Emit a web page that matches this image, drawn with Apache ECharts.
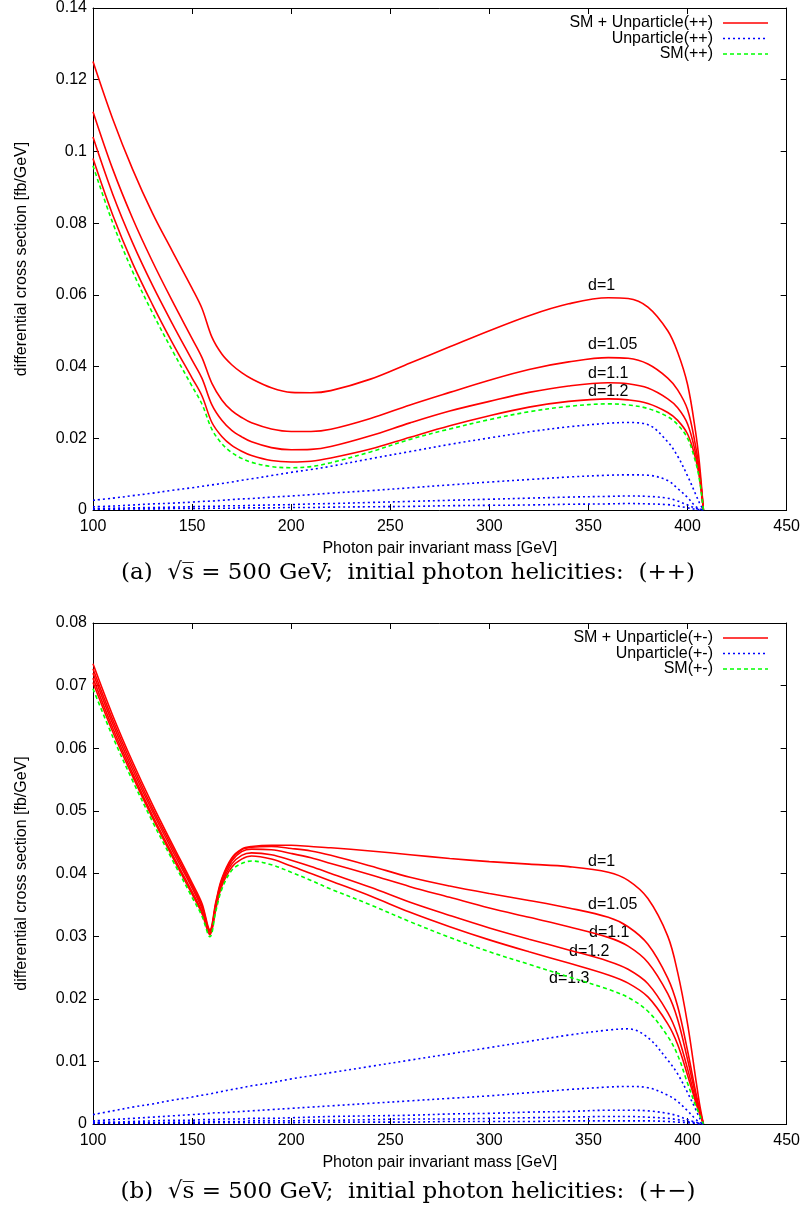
<!DOCTYPE html>
<html>
<head>
<meta charset="utf-8">
<script src="https://cdn.jsdelivr.net/npm/echarts@6.0.0/dist/echarts.min.js"></script>
<style>
  html, body { margin: 0; padding: 0; background: #fff; }
  #chart { width: 803px; height: 1209px; }
</style>
</head>
<body>
<div id="chart"></div>
<script>
// ---- panel (a): helicities (++) ----
const massPP = [100,110,120,130,140,150,155,160,165,170,175,180,190,200,210,220,240,260,280,300,320,340,360,370,380,390,395,400,404,406,408];
const d1PP   = [0.1251,0.1090,0.0950,0.0828,0.0722,0.0618,0.0562,0.0482,0.0435,0.0405,0.0383,0.0366,0.0341,0.0328,0.0327,0.0333,0.0365,0.0410,0.0455,0.0500,0.0542,0.0575,0.0592,0.0590,0.0566,0.0500,0.0440,0.0350,0.0220,0.0130,0];
const d105PP = [0.1111,0.0950,0.0813,0.0693,0.0583,0.0478,0.0425,0.0353,0.0307,0.0277,0.0258,0.0243,0.0226,0.0219,0.0219,0.0225,0.0255,0.0293,0.0328,0.0362,0.0392,0.0413,0.0425,0.0423,0.0407,0.0368,0.0335,0.0280,0.0180,0.0110,0];
const d11PP  = [0.1040,0.0880,0.0745,0.0627,0.0520,0.0418,0.0367,0.0293,0.0250,0.0222,0.0204,0.0190,0.0174,0.0168,0.0169,0.0177,0.0207,0.0243,0.0276,0.0303,0.0328,0.0346,0.0355,0.0352,0.0340,0.0310,0.0285,0.0240,0.0160,0.0100,0];
const d12PP  = [0.0980,0.0822,0.0688,0.0573,0.0467,0.0368,0.0318,0.0244,0.0205,0.0180,0.0164,0.0152,0.0138,0.0134,0.0136,0.0145,0.0170,0.0203,0.0235,0.0263,0.0287,0.0303,0.0310,0.0307,0.0297,0.0272,0.0250,0.0212,0.0145,0.0090,0];
const smPP   = [0.0960,0.0800,0.0665,0.0550,0.0445,0.0345,0.0295,0.0225,0.0185,0.0160,0.0144,0.0133,0.0121,0.0118,0.0121,0.0132,0.0162,0.0197,0.0226,0.0252,0.0274,0.0289,0.0296,0.0293,0.0283,0.0260,0.0238,0.0200,0.0135,0.0085,0];
const u1PP   = [0.0027,0.0033,0.0040,0.0047,0.0055,0.0062,0.0066,0.0070,0.0074,0.0078,0.0083,0.0087,0.0096,0.0105,0.0113,0.0122,0.0143,0.0163,0.0183,0.0201,0.0218,0.0232,0.0242,0.0244,0.0238,0.0190,0.0150,0.0095,0.0045,0.0020,0];
const u2PP   = [0.0009,0.0011,0.0014,0.0017,0.0019,0.0022,0.0024,0.0025,0.0027,0.0029,0.0031,0.0032,0.0036,0.0039,0.0043,0.0047,0.0054,0.0062,0.0070,0.0078,0.0085,0.0092,0.0097,0.0098,0.0097,0.0082,0.0060,0.0035,0.0010,0.0004,0];
const u3PP   = [0.0004,0.0005,0.0006,0.0007,0.0008,0.0009,0.0010,0.0010,0.0011,0.0012,0.0012,0.0013,0.0014,0.0015,0.0017,0.0018,0.0021,0.0024,0.0027,0.0030,0.0033,0.0036,0.0038,0.0039,0.0038,0.0033,0.0025,0.0014,0.0005,0.0002,0];
const u4PP   = [0.0002,0.0002,0.0003,0.0003,0.0004,0.0004,0.0004,0.0005,0.0005,0.0005,0.0006,0.0006,0.0006,0.0007,0.0007,0.0008,0.0009,0.0010,0.0012,0.0013,0.0014,0.0016,0.0017,0.0018,0.0017,0.0015,0.0011,0.0006,0.0002,0.0001,0];

// ---- panel (b): helicities (+-) ----
const massPM = [100,110,120,130,140,150,155,159,162,165,170,175,180,190,200,210,220,240,260,280,300,320,340,360,370,380,390,395,400,404,406,408];
const d1PM   = [0.0735,0.0652,0.0578,0.0510,0.0447,0.0385,0.0352,0.0310,0.0355,0.0392,0.0425,0.0439,0.0443,0.0445,0.0445,0.0443,0.0441,0.0436,0.0430,0.0424,0.0419,0.0415,0.0411,0.0402,0.0389,0.0360,0.0300,0.0242,0.0160,0.0075,0.0033,0];
const d105PM = [0.0727,0.0645,0.0572,0.0504,0.0442,0.0381,0.0348,0.0308,0.0352,0.0390,0.0423,0.0438,0.0442,0.0443,0.0440,0.0436,0.0429,0.0412,0.0394,0.0380,0.0368,0.0357,0.0345,0.0330,0.0315,0.0287,0.0233,0.0188,0.0117,0.0053,0.0025,0];
const d11PM  = [0.0720,0.0639,0.0566,0.0499,0.0437,0.0377,0.0344,0.0306,0.0350,0.0388,0.0420,0.0435,0.0439,0.0438,0.0432,0.0425,0.0416,0.0398,0.0379,0.0362,0.0345,0.0330,0.0315,0.0298,0.0284,0.0258,0.0208,0.0167,0.0103,0.0047,0.0022,0];
const d12PM  = [0.0712,0.0632,0.0560,0.0493,0.0431,0.0371,0.0339,0.0304,0.0347,0.0384,0.0415,0.0429,0.0433,0.0430,0.0421,0.0411,0.0400,0.0378,0.0354,0.0333,0.0313,0.0295,0.0278,0.0260,0.0247,0.0224,0.0178,0.0142,0.0088,0.0040,0.0019,0];
const d13PM  = [0.0705,0.0626,0.0555,0.0489,0.0427,0.0367,0.0336,0.0302,0.0344,0.0380,0.0410,0.0423,0.0428,0.0423,0.0412,0.0400,0.0388,0.0364,0.0338,0.0315,0.0294,0.0275,0.0257,0.0238,0.0225,0.0203,0.0160,0.0127,0.0078,0.0036,0.0017,0];
const smPM   = [0.0695,0.0618,0.0548,0.0483,0.0422,0.0362,0.0332,0.0299,0.0340,0.0375,0.0405,0.0416,0.0420,0.0414,0.0402,0.0389,0.0375,0.0350,0.0323,0.0298,0.0275,0.0255,0.0235,0.0215,0.0202,0.0180,0.0140,0.0110,0.0065,0.0030,0.0015,0];
const u1PM   = [0.0015,0.0021,0.0027,0.0032,0.0038,0.0043,0.0046,0.0048,0.0050,0.0052,0.0055,0.0058,0.0061,0.0066,0.0072,0.0077,0.0082,0.0092,0.0102,0.0112,0.0122,0.0132,0.0142,0.0150,0.0152,0.0138,0.0102,0.0080,0.0050,0.0024,0.0010,0];
const u2PM   = [0.0005,0.0007,0.0009,0.0011,0.0013,0.0015,0.0016,0.0017,0.0018,0.0018,0.0019,0.0020,0.0021,0.0023,0.0025,0.0027,0.0029,0.0033,0.0037,0.0041,0.0045,0.0050,0.0055,0.0059,0.0060,0.0058,0.0046,0.0036,0.0021,0.0008,0.0003,0];
const u3PM   = [0.0003,0.0003,0.0004,0.0005,0.0006,0.0006,0.0007,0.0007,0.0007,0.0008,0.0008,0.0008,0.0009,0.0009,0.0010,0.0011,0.0012,0.0013,0.0014,0.0016,0.0017,0.0019,0.0020,0.0022,0.0022,0.0021,0.0017,0.0013,0.0007,0.0003,0.0001,0];
const u4PM   = [0.0001,0.0002,0.0002,0.0002,0.0003,0.0003,0.0003,0.0004,0.0004,0.0004,0.0004,0.0004,0.0005,0.0005,0.0005,0.0006,0.0006,0.0007,0.0008,0.0008,0.0009,0.0010,0.0011,0.0012,0.0012,0.0011,0.0009,0.0007,0.0004,0.0002,0.0001,0];
const u5PM   = [0.0001,0.0001,0.0001,0.0001,0.0001,0.0001,0.0001,0.0002,0.0002,0.0002,0.0002,0.0002,0.0002,0.0002,0.0002,0.0003,0.0003,0.0003,0.0003,0.0004,0.0004,0.0004,0.0005,0.0005,0.0005,0.0005,0.0004,0.0003,0.0002,0.0001,0.0000,0];

const legendPP = ['SM + Unparticle(++)', 'Unparticle(++)', 'SM(++)'];
const legendPM = ['SM + Unparticle(+-)', 'Unparticle(+-)', 'SM(+-)'];
const dLabelsPP = ['d=1', 'd=1.05', 'd=1.1', 'd=1.2'];
const dLabelsPM = ['d=1', 'd=1.05', 'd=1.1', 'd=1.2', 'd=1.3'];
const xTitle = 'Photon pair invariant mass [GeV]';
const yTitle = 'differential cross section [fb/GeV]';

const FONT = '"Liberation Sans", Arial, sans-serif';
const RED = '#ff0000', BLUE = '#0000ff', GREEN = '#00ff00';

const chart = echarts.init(document.getElementById('chart'), null, { renderer: 'canvas' });

const pairs = (xs, ys) => xs.map((x, i) => [x, ys[i]]);

function curve(xs, ys, kind, gi) {
  const style = {
    red:   { color: RED, width: 1.6, type: 'solid' },
    blue:  { color: BLUE, width: 1.6, type: [2, 3] },
    green: { color: GREEN, width: 1.6, type: [4, 3] }
  }[kind];
  return {
    type: 'line',
    xAxisIndex: gi * 2,
    yAxisIndex: gi * 2,
    data: pairs(xs, ys),
    showSymbol: false,
    smooth: 0.35,
    lineStyle: style,
    silent: true,
    z: kind === 'green' ? 4 : 3
  };
}

function xAxes(gi) {
  const base = {
    gridIndex: gi, type: 'value', min: 100, max: 450, interval: 50,
    axisLine: { show: true, onZero: false, lineStyle: { color: '#000', width: 1 } },
    axisTick: { show: true, inside: true, length: 6, lineStyle: { color: '#000' } },
    splitLine: { show: false }
  };
  return [
    Object.assign({}, base, {
      position: 'bottom',
      axisLabel: { color: '#000', fontSize: 16, fontFamily: FONT, margin: 9 },
      name: xTitle, nameLocation: 'middle', nameGap: 31,
      nameTextStyle: { color: '#000', fontSize: 16, fontFamily: FONT }
    }),
    Object.assign({}, base, { position: 'top', axisLabel: { show: false } })
  ];
}

function yAxes(gi, max, step) {
  const base = {
    gridIndex: gi, type: 'value', min: 0, max: max, interval: step,
    axisLine: { show: true, onZero: false, lineStyle: { color: '#000', width: 1 } },
    axisTick: { show: true, inside: true, length: 6, lineStyle: { color: '#000' } },
    splitLine: { show: false }
  };
  return [
    Object.assign({}, base, {
      position: 'left',
      axisLabel: { color: '#000', fontSize: 16, fontFamily: FONT, margin: 6,
        formatter: v => String(+v.toFixed(4)) },
      name: yTitle, nameLocation: 'middle', nameGap: 63,
      nameTextStyle: { color: '#000', fontSize: 16, fontFamily: FONT }
    }),
    Object.assign({}, base, { position: 'right', axisLabel: { show: false } })
  ];
}

function legendGraphics(names, top) {
  const out = [];
  const kinds = [
    { color: RED, dash: null },
    { color: BLUE, dash: [2, 3] },
    { color: GREEN, dash: [4, 3] }
  ];
  names.forEach((n, i) => {
    const y = top + i * 15.5;
    out.push({
      type: 'text', x: 713, y: y, silent: true,
      style: { text: n, fill: '#000', font: '16px ' + FONT, textAlign: 'right', textVerticalAlign: 'middle' }
    });
    out.push({
      type: 'line', silent: true,
      shape: { x1: 723, y1: y, x2: 768, y2: y },
      style: { stroke: kinds[i].color, lineWidth: 1.6, lineDash: kinds[i].dash }
    });
  });
  return out;
}

function textAt(t, x, y) {
  return {
    type: 'text', x: x, y: y, silent: true,
    style: { text: t, fill: '#000', font: '16px ' + FONT, textAlign: 'left', textVerticalAlign: 'middle' }
  };
}

function caption(letter, hel, y) {
  return {
    type: 'text', x: 408, y: y, silent: true,
    style: {
      text: '(' + letter + ')  \u221As\u0305 = 500 GeV;  initial photon helicities:  (' + hel + ')',
      fill: '#000', font: '23px "DejaVu Serif", "Liberation Serif", serif',
      textAlign: 'center', textVerticalAlign: 'middle'
    }
  };
}

const posPP = [[588, 286], [588, 345], [588, 374], [588, 392]];
const posPM = [[588, 862], [588, 905], [589, 933], [569, 952], [549, 979]];

const option = {
  animation: false,
  backgroundColor: '#fff',
  grid: [
    { left: 93, top: 8, width: 695, height: 502 },
    { left: 93, top: 623, width: 695, height: 501 }
  ],
  xAxis: [...xAxes(0), ...xAxes(1)],
  yAxis: [...yAxes(0, 0.14, 0.02), ...yAxes(1, 0.08, 0.01)],
  series: [
    curve(massPP, d1PP, 'red', 0),
    curve(massPP, d105PP, 'red', 0),
    curve(massPP, d11PP, 'red', 0),
    curve(massPP, d12PP, 'red', 0),
    curve(massPP, u1PP, 'blue', 0),
    curve(massPP, u2PP, 'blue', 0),
    curve(massPP, u3PP, 'blue', 0),
    curve(massPP, u4PP, 'blue', 0),
    curve(massPP, smPP, 'green', 0),
    curve(massPM, d1PM, 'red', 1),
    curve(massPM, d105PM, 'red', 1),
    curve(massPM, d11PM, 'red', 1),
    curve(massPM, d12PM, 'red', 1),
    curve(massPM, d13PM, 'red', 1),
    curve(massPM, u1PM, 'blue', 1),
    curve(massPM, u2PM, 'blue', 1),
    curve(massPM, u3PM, 'blue', 1),
    curve(massPM, u4PM, 'blue', 1),
    curve(massPM, u5PM, 'blue', 1),
    curve(massPM, smPM, 'green', 1)
  ],
  graphic: [
    ...legendGraphics(legendPP, 23),
    ...legendGraphics(legendPM, 638),
    ...dLabelsPP.map((t, i) => textAt(t, posPP[i][0], posPP[i][1])),
    ...dLabelsPM.map((t, i) => textAt(t, posPM[i][0], posPM[i][1])),
    caption('a', '++', 573),
    caption('b', '+\u2212', 1192)
  ]
};

chart.setOption(option);
</script>
</body>
</html>
